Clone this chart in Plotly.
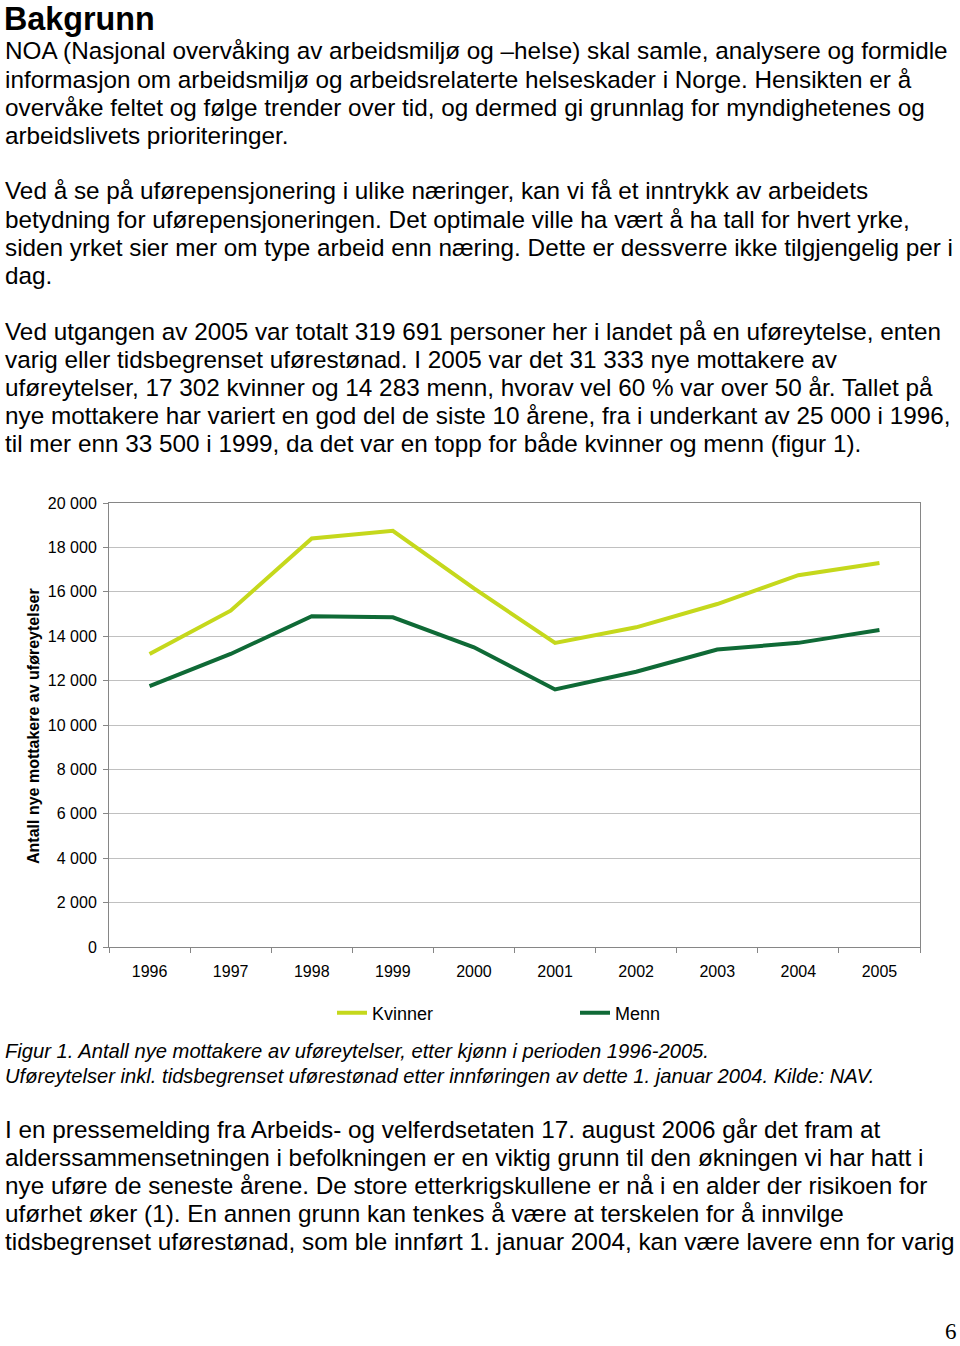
import plotly.graph_objects as go

years = ["1996", "1997", "1998", "1999", "2000", "2001", "2002", "2003", "2004", "2005"]
kvinner = [13200, 15150, 18400, 18750, 16150, 13700, 14400, 15450, 16750, 17302]
menn = [11750, 13200, 14900, 14850, 13500, 11600, 12400, 13400, 13700, 14283]
y_ticks = [0, 2000, 4000, 6000, 8000, 10000, 12000, 14000, 16000, 18000, 20000]

W, H = 960, 1346
FONT = "Liberation Sans, Arial, Helvetica, sans-serif"


def px(x):
    return x / W


def py(y):
    return 1 - y / H


fig = go.Figure()
fig.add_trace(go.Scatter(x=years, y=kvinner, mode="lines", name="Kvinner",
                         line=dict(color="#c5d81c", width=4)))
fig.add_trace(go.Scatter(x=years, y=menn, mode="lines", name="Menn",
                         line=dict(color="#0f6a36", width=4)))

annotations = []


def text(x, y, s, size=24.3, bold=False, italic=False, xanchor="left", yanchor="middle",
         family=FONT, borderpad=1):
    if bold:
        s = "<b>" + s + "</b>"
    if italic:
        s = "<i>" + s + "</i>"
    annotations.append(dict(x=px(x), y=py(y), xref="paper", yref="paper", text=s,
                            showarrow=False, xanchor=xanchor, yanchor=yanchor,
                            borderpad=borderpad,
                            font=dict(family=family, size=size, color="#000000")))


text(3, 0, "Bakgrunn", size=32.3, bold=True, yanchor="top", borderpad=0)

para1 = [
    "NOA (Nasjonal overvåking av arbeidsmiljø og –helse) skal samle, analysere og formidle",
    "informasjon om arbeidsmiljø og arbeidsrelaterte helseskader i Norge. Hensikten er å",
    "overvåke feltet og følge trender over tid, og dermed gi grunnlag for myndighetenes og",
    "arbeidslivets prioriteringer.",
]
para2 = [
    "Ved å se på uførepensjonering i ulike næringer, kan vi få et inntrykk av arbeidets",
    "betydning for uførepensjoneringen. Det optimale ville ha vært å ha tall for hvert yrke,",
    "siden yrket sier mer om type arbeid enn næring. Dette er dessverre ikke tilgjengelig per i",
    "dag.",
]
para3 = [
    "Ved utgangen av 2005 var totalt 319 691 personer her i landet på en uføreytelse, enten",
    "varig eller tidsbegrenset uførestønad. I 2005 var det 31 333 nye mottakere av",
    "uføreytelser, 17 302 kvinner og 14 283 menn, hvorav vel 60 % var over 50 år. Tallet på",
    "nye mottakere har variert en god del de siste 10 årene, fra i underkant av 25 000 i 1996,",
    "til mer enn 33 500 i 1999, da det var en topp for både kvinner og menn (figur 1).",
]
para4 = [
    "I en pressemelding fra Arbeids- og velferdsetaten 17. august 2006 går det fram at",
    "alderssammensetningen i befolkningen er en viktig grunn til den økningen vi har hatt i",
    "nye uføre de seneste årene. De store etterkrigskullene er nå i en alder der risikoen for",
    "uførhet øker (1). En annen grunn kan tenkes å være at terskelen for å innvilge",
    "tidsbegrenset uførestønad, som ble innført 1. januar 2004, kan være lavere enn for varig",
]
caption = [
    "Figur 1. Antall nye mottakere av uføreytelser, etter kjønn i perioden 1996-2005.",
    "Uføreytelser inkl. tidsbegrenset uførestønad etter innføringen av dette 1. januar 2004. Kilde: NAV.",
]

for i, s in enumerate(para1):
    text(3, 51 + 28.2 * i, s)
for i, s in enumerate(para2):
    text(3, 191 + 28.2 * i, s)
for i, s in enumerate(para3):
    text(3, 331 + 28.2 * i, s)
for i, s in enumerate(caption):
    text(3, 1051 + 25 * i, s, size=20.2, italic=True)
for i, s in enumerate(para4):
    text(3, 1129 + 28.2 * i, s)

text(959, 1346, "6", size=23, xanchor="right", yanchor="bottom",
     family="Liberation Serif, Times New Roman, serif")

# y-axis title
annotations.append(dict(x=px(33), y=py(726), xref="paper", yref="paper",
                        text="<b>Antall nye mottakere av uføreytelser</b>", textangle=-90,
                        showarrow=False, xanchor="center", yanchor="middle",
                        font=dict(family=FONT, size=16, color="#000000")))

fig.update_layout(
    width=W, height=H,
    margin=dict(l=0, r=0, t=0, b=0, autoexpand=False),
    paper_bgcolor="white", plot_bgcolor="white",
    separators=", ",
    annotations=annotations,
    showlegend=True,
    legend=dict(orientation="h", x=px(332), y=py(1013), xanchor="left", yanchor="middle",
                font=dict(family=FONT, size=18, color="#000000"),
                entrywidth=198, entrywidthmode="pixels", itemwidth=30,
                bgcolor="rgba(0,0,0,0)"),
    xaxis=dict(domain=[px(109), px(920)], type="category", range=[-0.5, 9.5],
               automargin=False,
               showline=True, linecolor="#868686", linewidth=1, mirror=True,
               ticks="outside", tickson="boundaries", ticklen=5, tickcolor="#868686",
               ticklabelstandoff=10,
               showgrid=False, tickfont=dict(family=FONT, size=16, color="#000000")),
    yaxis=dict(domain=[py(947), py(503)], range=[0, 20000], tickvals=y_ticks,
               tickformat=",d", automargin=False,
               showline=True, linecolor="#868686", linewidth=1, mirror=True,
               ticks="outside", ticklen=5, tickcolor="#868686",
               ticklabelstandoff=3,
               showgrid=True, gridcolor="#c0c0c0", gridwidth=1, zeroline=False,
               tickfont=dict(family=FONT, size=16, color="#000000")),
)

fig.write_html("out.html", config={"displayModeBar": False},
               post_script="document.body.style.margin='0';")
